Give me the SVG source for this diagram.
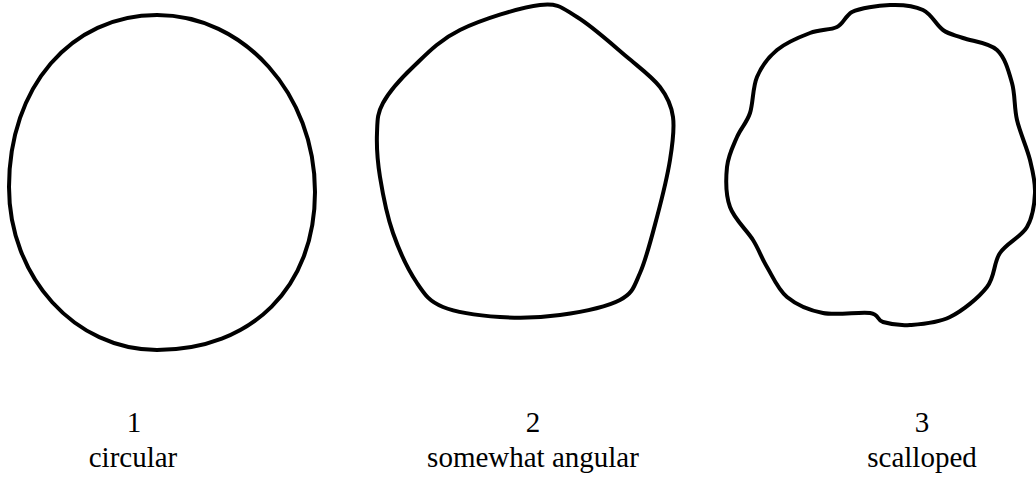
<svg xmlns="http://www.w3.org/2000/svg" width="1036" height="478" viewBox="0 0 1036 478">
<style>
.outline{fill:none;stroke:#000;stroke-width:4;stroke-linejoin:round;stroke-linecap:round}
.lbl{font-size:29px;fill:#000;text-anchor:middle}
</style>
<rect width="1036" height="478" fill="#fff"/>
<g id="shape1">
<path class="outline" d="M157,15 C244,15 315,94 315,192 C315,287 252,350 157,350 C75,350 9,277 9,187 C9,87 71,15 157,15 Z"/>
<text class="lbl" font-family="Liberation Serif, DejaVu Serif, serif" x="134" y="432">1</text>
<text class="lbl" font-family="Liberation Serif, DejaVu Serif, serif" x="133" y="467">circular</text>
</g>
<g id="shape2">
<path class="outline" d="M540,5 C559.5,2.8 562.5,8.3 577,17 C591.5,25.7 613.2,45.3 627,57 C640.8,68.7 652.3,77 660,87 C667.7,97 671.3,104.8 673,117 C674.7,129.2 672.7,143.3 670,160 C667.3,176.7 662,198.2 657,217 C652,235.8 646.2,259.2 640,273 C633.8,286.8 633.3,293 620,300 C606.7,307 580,312.2 560,315 C540,317.8 519.5,318.3 500,317 C480.5,315.7 456.8,312.7 443,307 C429.2,301.3 425.3,295.3 417,283 C408.7,270.7 399.2,250.7 393,233 C386.8,215.3 382.7,193.7 380,177 C377.3,160.3 376.5,145.3 377,133 C377.5,120.7 377,114 383,103 C389,92 400.2,79.2 413,67 C425.8,54.8 438.8,40.3 460,30 C481.2,19.7 520.5,7.2 540,5 Z"/>
<text class="lbl" font-family="Liberation Serif, DejaVu Serif, serif" x="533" y="432">2</text>
<text class="lbl" font-family="Liberation Serif, DejaVu Serif, serif" x="533" y="467">somewhat angular</text>
</g>
<g id="shape3">
<path class="outline" d="M890,5 C902.2,4.5 914.2,5.8 923,10 C931.8,14.2 936.3,25.3 943,30 C949.7,34.7 954,34.7 963,38 C972,41.3 988.8,42.5 997,50 C1005.2,57.5 1008.7,71.3 1012,83 C1015.3,94.7 1014,107.2 1017,120 C1020,132.8 1027,147.8 1030,160 C1033,172.2 1035.5,181.8 1035,193 C1034.5,204.2 1032.8,217 1027,227 C1021.2,237 1006.7,243 1000,253 C993.3,263 995.3,276.3 987,287 C978.7,297.7 962.8,310.7 950,317 C937.2,323.3 921.2,324.2 910,325 C898.8,325.8 889.7,324 883,322 C876.3,320 880,314.5 870,313 C860,311.5 836.8,315.7 823,313 C809.2,310.3 796.3,304.7 787,297 C777.7,289.3 772.7,276.5 767,267 C761.3,257.5 759.2,250 753,240 C746.8,230 734.3,219.2 730,207 C725.7,194.8 725.8,178.7 727,167 C728.2,155.3 733.2,146 737,137 C740.8,128 746.7,123 750,113 C753.3,103 752.5,87.5 757,77 C761.5,66.5 768.2,57.3 777,50 C785.8,42.7 800,36.8 810,33 C820,29.2 830.3,30.3 837,27 C843.7,23.7 845,16 852,12 C860,8 877.8,5.5 890,5 Z"/>
<text class="lbl" font-family="Liberation Serif, DejaVu Serif, serif" x="922" y="432">3</text>
<text class="lbl" font-family="Liberation Serif, DejaVu Serif, serif" x="922" y="467">scalloped</text>
</g>
<g id="connectors"/>
</svg>
